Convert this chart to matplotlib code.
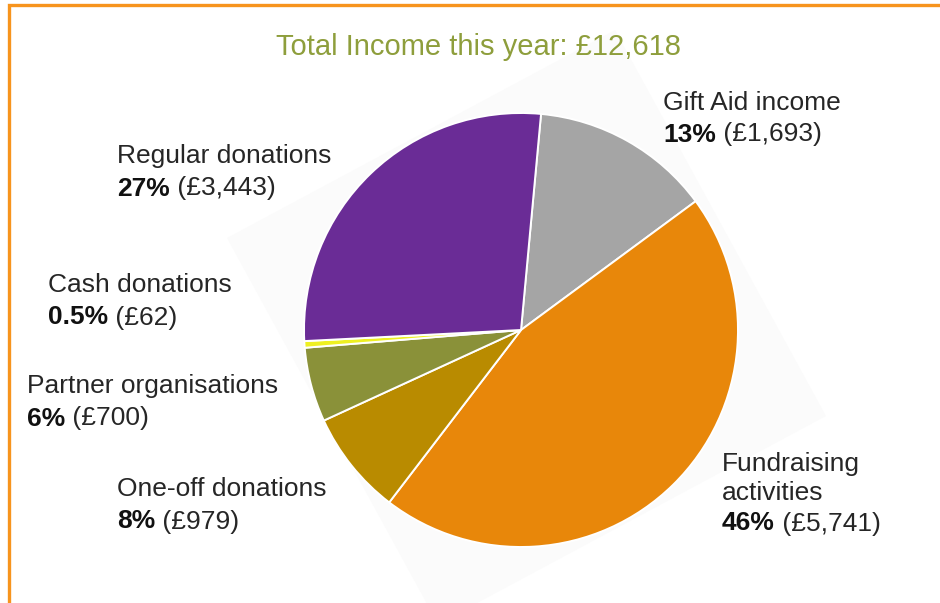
import matplotlib.pyplot as plt
from matplotlib.patches import Polygon, Rectangle

# data
categories = ['Gift Aid income', 'Fundraising\nactivities', 'One-off donations',
              'Partner organisations', 'Cash donations', 'Regular donations']
amounts = [1693, 5741, 979, 700, 62, 3443]
pct_labels = ['13%', '46%', '8%', '6%', '0.5%', '27%']
amount_labels = ['(£1,693)', '(£5,741)', '(£979)', '(£700)', '(£62)', '(£3,443)']
colors = ['#a5a5a5', '#e8870a', '#b98b00', '#8a9139', '#eef022', '#6a2c96']
title = 'Total Income this year: £12,618'

W, H = 940, 603
FONT = ['Liberation Sans', 'DejaVu Sans']


def py(y):
    # pixel row (from the top) -> data y
    return H - y


fig = plt.figure(figsize=(W / 100, H / 100), dpi=100)
ax = fig.add_axes([0, 0, 1, 1])

# faint rotated backdrop behind the pie
shadow = [(227, 238), (615, 30), (826, 416), (438, 624)]
ax.add_patch(Polygon([(x, py(y)) for x, y in shadow], closed=True,
                     facecolor='#fbfbfb', edgecolor='none', zorder=0))

ax.pie(amounts, colors=colors, startangle=84.7, counterclock=False,
       center=(521, py(330)), radius=217,
       wedgeprops=dict(edgecolor='white', linewidth=1.4))

# label blocks: x, centre rows of the name lines, centre row of the value line
label_pos = [
    (663, [100], 132),
    (722, [461, 490], 521),
    (117, [486], 519),
    (27, [384], 416),
    (48, [282], 315),
    (117, [153], 186),
]

fs = 19
for name, pct, amt, (x, rows, vrow) in zip(categories, pct_labels,
                                           amount_labels, label_pos):
    for line, r in zip(name.split('\n'), rows):
        ax.text(x, py(r + 9.5), line, fontsize=fs, family=FONT,
                color='#262626', va='baseline', ha='left')
    b = ax.text(x, py(vrow + 9.5), pct, fontsize=fs, family=FONT,
                fontweight='bold', color='#111111', va='baseline', ha='left')
    ax.annotate(' ' + amt, xy=(1, 0), xycoords=b, fontsize=fs, family=FONT,
                color='#262626', va='bottom', ha='left')

ax.text(479, py(47), title, fontsize=21, family=FONT, color='#8e9e3c',
        ha='center', va='center')

# orange frame, runs off the right and bottom edges
ax.add_patch(Rectangle((9, py(640)), 960, 635, facecolor='none',
                       edgecolor='#f7941d', linewidth=2.4, clip_on=False))

ax.set_xlim(0, W)
ax.set_ylim(0, H)
ax.set_aspect('equal')
ax.set_axis_off()

plt.savefig('out.png', dpi=100)
